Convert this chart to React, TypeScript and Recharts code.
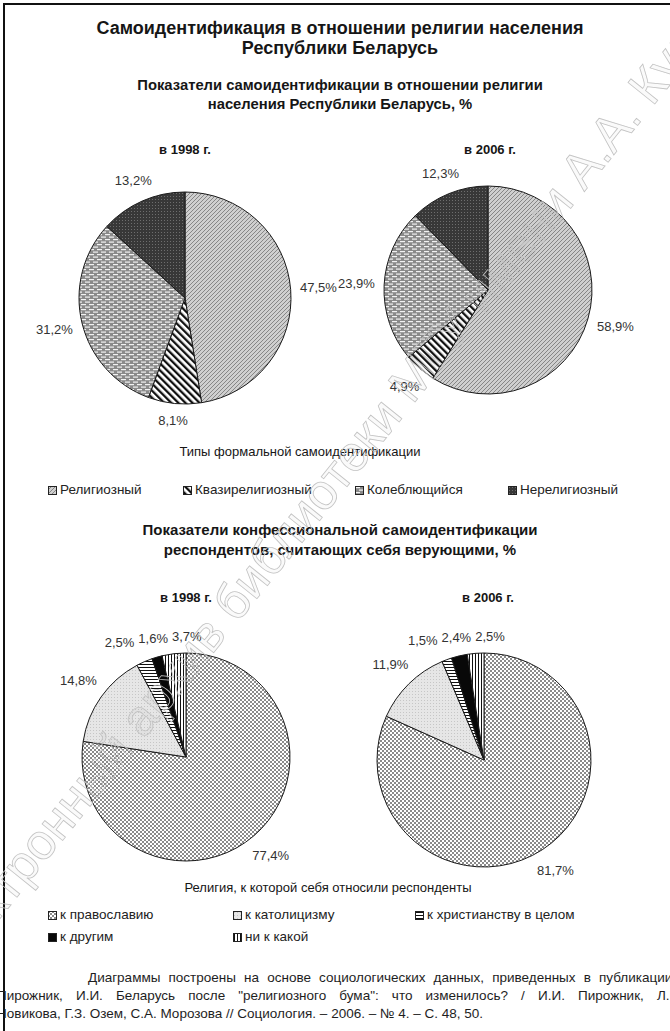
import React from 'react';
import { PieChart, Pie, Cell } from 'recharts';

// Типы формальной самоидентификации, %
const typeNames = ['Религиозный', 'Квазирелигиозный', 'Колеблющийся', 'Нерелигиозный'];
const types1998 = [47.5, 8.1, 31.2, 13.2];
const types2006 = [58.9, 4.9, 23.9, 12.3];

// Конфессиональная самоидентификация верующих, %
const faithNames = ['к православию', 'к католицизму', 'к христианству в целом', 'к другим', 'ни к какой'];
const faith1998 = [77.4, 14.8, 2.5, 1.6, 3.7];
const faith2006 = [81.7, 11.9, 1.5, 2.4, 2.5];

const yearLabels = ['в 1998 г.', 'в 2006 г.'];

const typeFills = ['url(#pRel)', 'url(#pQuasi)', 'url(#pWav)', 'url(#pNon)'];
const faithFills = ['url(#pOrth)', 'url(#pCath)', 'url(#pChr)', 'url(#pOther)', 'url(#pNone)'];

const FONT = '"Liberation Sans", Arial, sans-serif';
const RAD = Math.PI / 180;
const LABEL_FONT = 13;
const SIZE = 320;
const HALF = SIZE / 2;

const fmt = (v: number) => v.toFixed(1).replace('.', ',') + '%';
const textW = (s: string) =>
  s.split('').reduce((w, ch) => w + (ch === ',' ? 0.278 : ch === '%' ? 0.889 : 0.556), 0) * LABEL_FONT;

const labelDist = (r: number, c: number, s: number, w: number) =>
  r + 9 + (Math.abs(c) * w) / 2 + (Math.abs(s) * LABEL_FONT) / 2;

// horizontal nudges so that neighbouring small-slice labels don't collide
function labelShifts(values: number[], r: number) {
  const total = values.reduce((a, b) => a + b, 0);
  let start = 90;
  const pts = values.map((v) => {
    const sweep = (v / total) * 360;
    const mid = start - sweep / 2;
    start -= sweep;
    const w = textW(fmt(v));
    const c = Math.cos(mid * RAD);
    const s = Math.sin(mid * RAD);
    const d = labelDist(r, c, s, w);
    return { x: c * d, y: -s * d, w, x0: c * d };
  });
  for (let it = 0; it < 40; it++) {
    for (let i = 0; i < pts.length; i++) {
      const a = pts[i];
      const b = pts[(i + 1) % pts.length];
      if (Math.abs(a.y - b.y) > LABEL_FONT + 2) continue;
      const need = (a.w + b.w) / 2 + 4;
      const gap = Math.abs(a.x - b.x);
      if (gap >= need) continue;
      const push = (need - gap) / 2;
      if (a.x <= b.x) {
        a.x -= push;
        b.x += push;
      } else {
        a.x += push;
        b.x -= push;
      }
    }
  }
  return pts.map((p) => p.x - p.x0);
}

const makeLabel = (shifts: number[]) => (props: any) => {
  const { cx, cy, midAngle, outerRadius, value, index } = props;
  const text = fmt(value);
  const w = textW(text);
  const c = Math.cos(-midAngle * RAD);
  const s = Math.sin(-midAngle * RAD);
  const d = labelDist(outerRadius, c, s, w);
  return (
    <text
      key={`lbl-${index}`}
      x={cx + c * d + shifts[index]}
      y={cy + s * d}
      textAnchor="middle"
      dominantBaseline="central"
      fontFamily={FONT}
      fontSize={LABEL_FONT}
      fill="#333"
    >
      {text}
    </text>
  );
};

type PieBlockProps = {
  values: number[];
  names: string[];
  fills: string[];
  x: number;
  y: number;
  r: number;
};

const PieBlock: React.FC<PieBlockProps> = ({ values, names, fills, x, y, r }) => {
  const data = values.map((v, i) => ({ name: names[i], value: v }));
  const shifts = labelShifts(values, r);
  return (
    <div style={{ position: 'absolute', left: x - HALF, top: y - HALF }}>
      <PieChart width={SIZE} height={SIZE} margin={{ top: 0, right: 0, bottom: 0, left: 0 }}>
        <Pie
          data={data}
          dataKey="value"
          nameKey="name"
          cx={HALF}
          cy={HALF}
          outerRadius={r}
          startAngle={90}
          endAngle={-270}
          stroke="#1a1a1a"
          strokeWidth={1}
          isAnimationActive={false}
          labelLine={false}
          label={makeLabel(shifts)}
        >
          {data.map((d, i) => (
            <Cell key={d.name} fill={fills[i]} />
          ))}
        </Pie>
      </PieChart>
    </div>
  );
};

const Txt: React.FC<{ y: number; size: number; bold?: boolean; cx?: number; children: React.ReactNode }> = ({
  y,
  size,
  bold,
  cx = 340,
  children,
}) => (
  <div
    style={{
      position: 'absolute',
      left: cx - 335,
      width: 670,
      top: y - 10,
      height: 20,
      lineHeight: '20px',
      textAlign: 'center',
      fontSize: size,
      fontWeight: bold ? 'bold' : 'normal',
      whiteSpace: 'nowrap',
      color: '#161616',
    }}
  >
    {children}
  </div>
);

const LegendItem: React.FC<{ x: number; y: number; fill: string; text: string }> = ({ x, y, fill, text }) => (
  <div
    style={{
      position: 'absolute',
      left: x,
      top: y - 10,
      height: 20,
      lineHeight: '20px',
      whiteSpace: 'nowrap',
      fontSize: 13.5,
      color: '#222',
    }}
  >
    <svg width={9} height={9} style={{ verticalAlign: '-1px', marginRight: 3 }}>
      <rect x={0.5} y={0.5} width={8} height={8} fill={fill} stroke="#222" />
    </svg>
    {text}
  </div>
);

// legend layout
const typeLegendX = [48, 183, 355, 508];
const faithLegendPos = [
  [48, 915],
  [233, 915],
  [415, 915],
  [48, 937],
  [233, 937],
];

const Patterns = () => (
  <svg width="0" height="0" style={{ position: 'absolute' }}>
    <defs>
      <pattern id="pRel" width="4" height="4" patternUnits="userSpaceOnUse">
        <rect width="4" height="4" fill="#cfcfcf" />
        <path d="M0,4 L4,0 M-1,1 L1,-1 M3,5 L5,3" stroke="#7e7e7e" strokeWidth="0.9" />
      </pattern>
      <pattern id="pQuasi" width="5" height="5" patternUnits="userSpaceOnUse" patternTransform="rotate(-45)">
        <rect width="5" height="5" fill="#fff" />
        <rect width="2.3" height="5" fill="#111" />
      </pattern>
      <pattern id="pWav" width="8" height="5" patternUnits="userSpaceOnUse">
        <rect width="8" height="5" fill="#8a8a8a" />
        <rect x="0" y="1" width="5" height="1.2" fill="#f2f2f2" />
        <rect x="4" y="3.5" width="5" height="1.2" fill="#f2f2f2" />
        <rect x="-4" y="3.5" width="5" height="1.2" fill="#f2f2f2" />
      </pattern>
      <pattern id="pNon" width="3" height="3" patternUnits="userSpaceOnUse">
        <rect width="3" height="3" fill="#383838" />
        <rect x="1" y="1" width="1" height="1" fill="#6e6e6e" />
      </pattern>
      <pattern id="pOrth" width="4" height="4" patternUnits="userSpaceOnUse">
        <rect width="4" height="4" fill="#fff" />
        <rect width="2" height="2" fill="#8a8a8a" />
        <rect x="2" y="2" width="2" height="2" fill="#8a8a8a" />
      </pattern>
      <pattern id="pCath" width="3" height="3" patternUnits="userSpaceOnUse">
        <rect width="3" height="3" fill="#e6e6e6" />
        <rect x="1" y="1" width="1" height="1" fill="#c6c6c6" />
      </pattern>
      <pattern id="pChr" width="4" height="3" patternUnits="userSpaceOnUse">
        <rect width="4" height="3" fill="#fff" />
        <rect y="1" width="4" height="1" fill="#111" />
      </pattern>
      <pattern id="pOther" width="4" height="4" patternUnits="userSpaceOnUse">
        <rect width="4" height="4" fill="#080808" />
      </pattern>
      <pattern id="pNone" width="3" height="4" patternUnits="userSpaceOnUse">
        <rect width="3" height="4" fill="#fff" />
        <rect x="1" width="1" height="4" fill="#111" />
      </pattern>
    </defs>
  </svg>
);

const footerLine: React.CSSProperties = {
  position: 'absolute',
  height: 18,
  lineHeight: '18px',
  fontSize: 13.5,
  color: '#1e1e1e',
  whiteSpace: 'nowrap',
};

export default function App() {
  return (
    <div
      style={{
        position: 'absolute',
        left: 0,
        top: 0,
        width: 670,
        height: 1031,
        overflow: 'hidden',
        background: '#fff',
        fontFamily: FONT,
      }}
    >
      <Patterns />
      <div
        style={{
          position: 'absolute',
          left: 3,
          top: 3,
          width: 720,
          height: 1100,
          borderTop: '2px solid #111',
          borderLeft: '2px solid #111',
        }}
      />

      <Txt y={28} size={18} bold>Самоидентификация в отношении религии населения</Txt>
      <Txt y={48} size={18} bold>Республики Беларусь</Txt>
      <Txt y={85} size={14.8} bold>Показатели самоидентификации в отношении религии</Txt>
      <Txt y={104} size={14.8} bold>населения Республики Беларусь, %</Txt>

      <Txt y={150} size={13} bold cx={185}>{yearLabels[0]}</Txt>
      <Txt y={150} size={13} bold cx={490}>{yearLabels[1]}</Txt>

      <PieBlock values={types1998} names={typeNames} fills={typeFills} x={185} y={298} r={106} />
      <PieBlock values={types2006} names={typeNames} fills={typeFills} x={488} y={290} r={104} />

      <Txt y={452} size={13} cx={300}>Типы формальной самоидентификации</Txt>
      {typeNames.map((n, i) => (
        <LegendItem key={n} x={typeLegendX[i]} y={490} fill={typeFills[i]} text={n} />
      ))}

      <Txt y={530} size={15} bold>Показатели конфессиональной самоидентификации</Txt>
      <Txt y={550} size={15} bold>респондентов, считающих себя верующими, %</Txt>

      <Txt y={598} size={13} bold cx={186}>{yearLabels[0]}</Txt>
      <Txt y={598} size={13} bold cx={488}>{yearLabels[1]}</Txt>

      <PieBlock values={faith1998} names={faithNames} fills={faithFills} x={186} y={757} r={104} />
      <PieBlock values={faith2006} names={faithNames} fills={faithFills} x={484} y={760} r={107} />

      <Txt y={888} size={13} cx={328}>Религия, к которой себя относили респонденты</Txt>
      {faithNames.map((n, i) => (
        <LegendItem key={n} x={faithLegendPos[i][0]} y={faithLegendPos[i][1]} fill={faithFills[i]} text={n} />
      ))}

      <div style={{ ...footerLine, left: 88, top: 969, width: 588, textAlign: 'justify', textAlignLast: 'justify' }}>
        Диаграммы построены на основе социологических данных, приведенных в публикации:
      </div>
      <div style={{ ...footerLine, left: -3, top: 987, width: 682, textAlign: 'justify', textAlignLast: 'justify' }}>
        Пирожник, И.И. Беларусь после "религиозного бума": что изменилось? / И.И. Пирожник, Л.Г.
      </div>
      <div style={{ ...footerLine, left: -3, top: 1005 }}>
        Новикова, Г.З. Озем, С.А. Морозова // Социология. – 2006. – № 4. – С. 48, 50.
      </div>

      <svg
        width={670}
        height={1031}
        style={{ position: 'absolute', left: 0, top: 0, pointerEvents: 'none' }}
      >
        <text
          x={-60}
          y={993}
          transform="rotate(-51.2 -60 993)"
          fontFamily={FONT}
          fontSize={50}
          fill="rgba(0,0,0,0.02)"
          stroke="#c2c2c2"
          strokeWidth={0.8}
        >
          Электронный архив библиотеки МГУ имени А.А. Кулешова
        </text>
      </svg>
    </div>
  );
}
